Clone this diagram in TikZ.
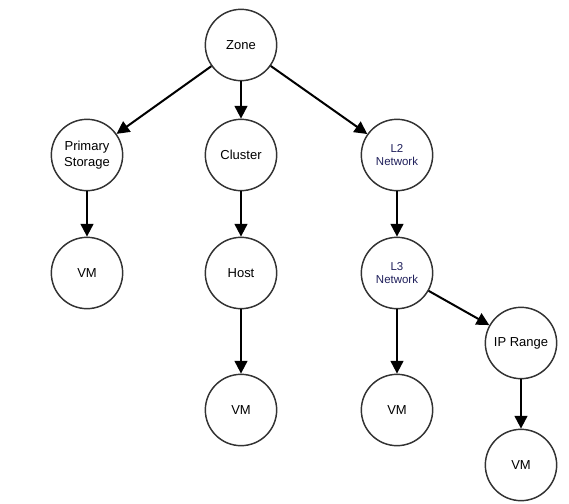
\documentclass[tikz,border=0pt]{standalone}
\usepackage{fontspec}
\setmainfont{Liberation Sans}
\usetikzlibrary{arrows.meta}
\definecolor{navy}{HTML}{1F1F5B}
\tikzset{
  nd/.style={circle, draw=black!80, line width=1.1pt, minimum size=53.5pt, inner sep=0pt, align=center, font=\fontsize{9.75}{11.5}\selectfont, fill=white},
  small/.style={font=\fontsize{8.6}{10.2}\selectfont, text=navy},
  arr/.style={line width=1.5pt, -{Triangle[length=9.5pt,width=9.5pt]}}
}
\begin{document}
\begin{tikzpicture}[x=0.75pt,y=-0.75pt]
\useasboundingbox (0,0) rectangle (569,504);
\node[nd] (zone) at (241,45) {Zone};
\node[nd] (ps) at (87,155) {Primary\\Storage};
\node[nd] (cl) at (241,155) {Cluster};
\node[nd, small] (l2) at (397,155) {L2\\Network};
\node[nd] (vm1) at (87,273) {VM};
\node[nd] (host) at (241,273) {Host};
\node[nd, small] (l3) at (397,273) {L3\\Network};
\node[nd] (vm2) at (241,410) {VM};
\node[nd] (vm3) at (397,410) {VM};
\node[nd] (ip) at (521,343) {IP Range};
\node[nd] (vm4) at (521,465) {VM};
\draw[arr] (zone) -- (ps);
\draw[arr] (zone) -- (cl);
\draw[arr] (zone) -- (l2);
\draw[arr] (ps) -- (vm1);
\draw[arr] (cl) -- (host);
\draw[arr] (l2) -- (l3);
\draw[arr] (host) -- (vm2);
\draw[arr] (l3) -- (vm3);
\draw[arr] (l3) -- (ip);
\draw[arr] (ip) -- (vm4);
\end{tikzpicture}
\end{document}
